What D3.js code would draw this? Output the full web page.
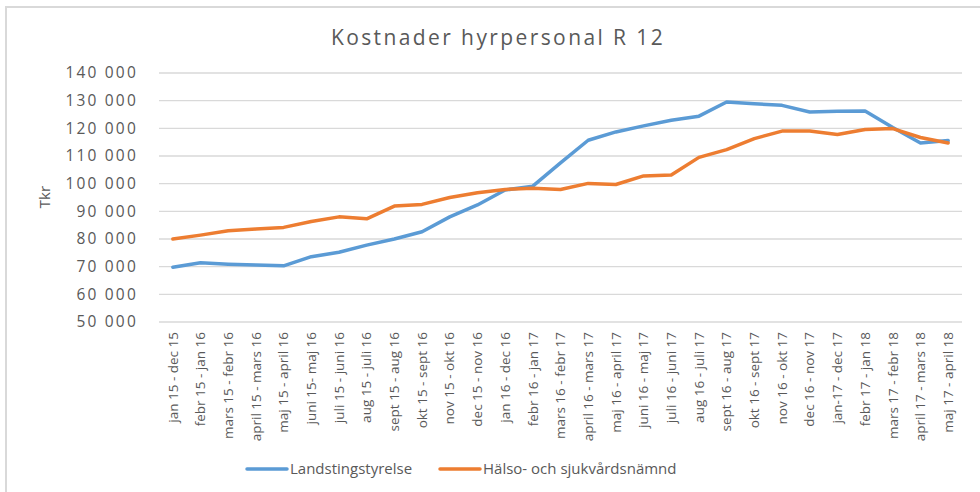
<!DOCTYPE html>
<html>
<head>
<meta charset="utf-8">
<script src="https://cdn.jsdelivr.net/npm/d3@7"></script>
<style>
  body { margin: 0; background: #fff; }
  text { font-family: "Open Sans", sans-serif; fill: #595959; }
</style>
</head>
<body>
<svg id="chart"></svg>
<script>
// perioder (rullande 12)
var periods = [
  "jan 15 - dec 15", "febr 15 - jan 16", "mars 15 - febr 16", "april 15 - mars 16",
  "maj 15 - april 16", "juni 15- maj 16", "juli 15 - juni 16", "aug 15 - juli 16",
  "sept 15 - aug 16", "okt 15 - sept 16", "nov 15 - okt 16", "dec 15 - nov 16",
  "jan 16 - dec 16", "febr 16 - jan 17", "mars 16 - febr 17", "april 16 - mars 17",
  "maj 16 - april 17", "juni 16 - maj 17", "juli 16 - juni 17", "aug 16 - juli 17",
  "sept 16 - aug 17", "okt 16 - sept 17", "nov 16 - okt 17", "dec 16 - nov 17",
  "jan-17 - dec 17", "febr 17 - jan 18", "mars 17 - febr 18", "april 17 - mars 18",
  "maj 17 - april 18"
];
var landsting = [
  69800, 71400, 70900, 70600, 70300, 73600, 75200, 77800, 80000, 82600,
  88000, 92300, 97700, 99100, 107500, 115700, 118700, 120900, 122900, 124400,
  129500, 128900, 128300, 125900, 126200, 126300, 120300, 114700, 115600
];
var halso = [
  80000, 81400, 83000, 83600, 84200, 86300, 88000, 87300, 91900, 92500,
  95000, 96700, 97900, 98300, 97900, 100100, 99700, 102800, 103100, 109500,
  112300, 116300, 119000, 119000, 117800, 119600, 119900, 116700, 114700
];
var yTicks = [50000, 60000, 70000, 80000, 90000, 100000, 110000, 120000, 130000, 140000];
var seriesNames = ["Landstingstyrelse", "Hälso- och sjukvårdsnämnd"];
var seriesColors = ["#5b9bd5", "#ed7d31"];

function drawChart() {
  var width = 980, height = 492;
  var mLeft = 159, mRight = 962, mTop = 73, mBottom = 322;

  var svg = d3.select("#chart").attr("width", width).attr("height", height);

  // ram
  svg.append("path")
    .attr("d", "M6,492 V7 H980")
    .attr("fill", "none")
    .attr("stroke", "#d9d9d9")
    .attr("stroke-width", 2);

  svg.append("text")
    .attr("x", 498).attr("y", 45)
    .attr("text-anchor", "middle")
    .style("font-size", "21px")
    .style("letter-spacing", "2.4px")
    .text("Kostnader hyrpersonal R 12");

  var x = d3.scaleBand().domain(periods).range([mLeft, mRight]);
  var y = d3.scaleLinear().domain([50000, 140000]).range([mBottom, mTop]);

  var fmt = function(d) { return d3.format(",")(d).replace(/,/g, " "); };

  // rutnät
  svg.append("g")
    .selectAll("line")
    .data(yTicks)
    .enter().append("line")
    .attr("x1", mLeft).attr("x2", mRight)
    .attr("y1", function(d) { return y(d); })
    .attr("y2", function(d) { return y(d); })
    .attr("stroke", "#d9d9d9")
    .attr("stroke-width", 1.3);

  var yAxis = svg.append("g")
    .attr("transform", "translate(" + (mLeft - 21) + ",0)")
    .call(d3.axisLeft(y).tickValues(yTicks).tickFormat(fmt).tickSize(0).tickPadding(0));
  yAxis.select(".domain").remove();
  yAxis.selectAll("text")
    .style("font-size", "15.5px")
    .style("letter-spacing", "2.2px")
    .style("fill", "#595959");

  svg.append("text")
    .attr("transform", "translate(50,197) rotate(-90)")
    .attr("text-anchor", "middle")
    .style("font-size", "15px")
    .text("Tkr");

  var xAxis = svg.append("g")
    .attr("transform", "translate(0," + mBottom + ")")
    .call(d3.axisBottom(x).tickSize(0).tickPadding(0));
  xAxis.select(".domain").remove();
  xAxis.selectAll("text")
    .attr("transform", "rotate(-90)")
    .attr("x", -10).attr("y", 0).attr("dy", "0.35em")
    .style("text-anchor", "end")
    .style("font-size", "13.5px")
    .style("fill", "#595959");

  var line = d3.line()
    .x(function(d, i) { return x(periods[i]) + x.bandwidth() / 2; })
    .y(function(d) { return y(d); });

  [landsting, halso].forEach(function(s, k) {
    svg.append("path")
      .datum(s)
      .attr("d", line)
      .attr("fill", "none")
      .attr("stroke", seriesColors[k])
      .attr("stroke-width", 3.5)
      .attr("stroke-linecap", "round")
      .attr("stroke-linejoin", "round");
  });

  // legend
  var legX = [247, 440];
  seriesNames.forEach(function(n, k) {
    svg.append("line")
      .attr("x1", legX[k]).attr("x2", legX[k] + 40)
      .attr("y1", 469).attr("y2", 469)
      .attr("stroke", seriesColors[k])
      .attr("stroke-width", 3.5)
      .attr("stroke-linecap", "round");
    svg.append("text")
      .attr("x", legX[k] + 43).attr("y", 474)
      .style("font-size", "15px")
      .text(n);
  });
}

drawChart();
</script>
</body>
</html>
